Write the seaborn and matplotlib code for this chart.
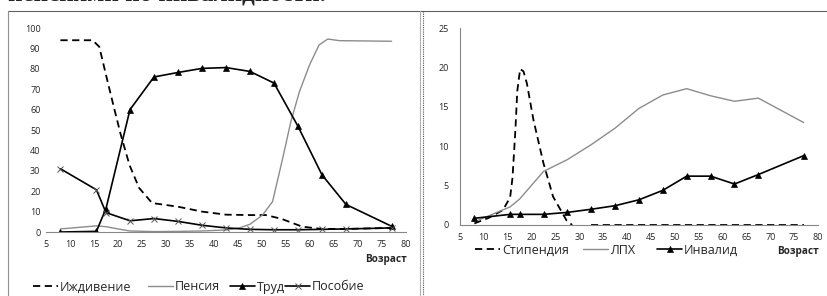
import matplotlib
matplotlib.use("Agg")
import matplotlib.pyplot as plt
from matplotlib.lines import Line2D
from matplotlib.legend import Legend
import seaborn as sns

sns.set_style("white")
plt.rcParams["font.family"] = ["Open Sans", "DejaVu Sans"]

# возрастные группы (точки с маркерами)
age = [8, 15.5, 17.5, 22.5, 27.5, 32.5, 37.5, 42.5, 47.5, 52.5, 57.5, 62.5, 67.5, 77]

# левый график, %
trud = [0, 0.3, 11.5, 60, 76, 78.2, 80.2, 80.6, 78.7, 73, 51.8, 28, 13.5, 2.8]
posobie = [31, 20.7, 9.5, 5.5, 6.6, 5.2, 3.3, 2, 1.3, 1.1, 1.1, 1.3, 1.5, 2]
# кривые без маркеров, считаны по линии
age_izh = [8, 14.7, 16.1, 17.5, 19.2, 20.6, 22.4, 24.4, 27.1, 32.5, 37.5, 42.5, 47.5, 50.8, 54, 58.4, 62.5, 67.5, 77]
izhdiv = [94, 94, 90.8, 77, 60.6, 47.5, 32.8, 21.6, 14.2, 12.4, 10, 8.5, 8.3, 8.3, 6.5, 2.6, 1.5, 1.5, 2]
age_pens = [8, 15.5, 17.5, 20, 22.5, 27.5, 32.5, 37.5, 42.5, 45.3, 47.5, 50.1, 52.2, 54.3, 56, 57.8, 59.9, 61.9, 63.7, 66.1, 77]
pensia = [1.5, 3, 2.6, 1.5, 0.5, 0.2, 0.3, 0.5, 1, 2, 3.8, 8.3, 14.9, 36, 54, 68.8, 81.9, 91.7, 94.6, 93.8, 93.5]

# правый график, %
invalid = [0.85, 1.35, 1.35, 1.35, 1.6, 2.0, 2.45, 3.2, 4.4, 6.2, 6.2, 5.2, 6.4, 8.8]
lph = [0.4, 2.3, 3.3, 6.8, 8.3, 10.2, 12.3, 14.8, 16.5, 17.3, 16.4, 15.7, 16.1, 13.0]
age_stip = [8, 11, 14, 15.5, 16, 16.6, 17.0, 17.6, 18.3, 19, 20.4, 22.5, 24.5, 27.3, 28.5]
stip = [0.2, 0.9, 1.9, 3.5, 6, 12, 17, 19.8, 19.5, 18, 13.3, 7.8, 3.6, 0.6, 0]
age_stip2 = [32.5, 77]
stip2 = [0, 0]

GREY = "#8c8c8c"
AXC = "#868686"
DASH = (0, (4, 2.5))
W, H = 827, 296

fig = plt.figure(figsize=(8.27, 2.96), dpi=100)
axL = fig.add_axes([46 / W, 1 - 232 / H, 360 / W, 204 / H])
axR = fig.add_axes([460 / W, 1 - 225 / H, 358 / W, 197 / H])

kw = dict(estimator=None, errorbar=None, sort=False)

# левый
sns.lineplot(x=age_izh, y=izhdiv, ax=axL, color="black", lw=1.3, linestyle=DASH, label="Иждивение", **kw)
sns.lineplot(x=age_pens, y=pensia, ax=axL, color=GREY, lw=1.0, label="Пенсия", **kw)
sns.lineplot(x=age, y=trud, ax=axL, color="black", lw=1.2, marker="^", markersize=4.5,
             markeredgecolor="black", markeredgewidth=0.5, label="Труд", **kw)
sns.lineplot(x=age, y=posobie, ax=axL, color="black", lw=1.2, marker="x", markersize=4.5,
             markeredgecolor="#555555", markeredgewidth=0.7, label="Пособие", **kw)

# правый
sns.lineplot(x=age_stip, y=stip, ax=axR, color="black", lw=1.3, linestyle=DASH, label="Стипендия", **kw)
sns.lineplot(x=age_stip2, y=stip2, ax=axR, color="black", lw=1.3, linestyle=DASH, **kw)
sns.lineplot(x=age, y=lph, ax=axR, color=GREY, lw=1.0, label="ЛПХ", **kw)
sns.lineplot(x=age, y=invalid, ax=axR, color="black", lw=1.2, marker="^", markersize=4.5,
             markeredgecolor="black", markeredgewidth=0.5, label="Инвалид", **kw)

for ax, ymax, ystep in [(axL, 100, 10), (axR, 25, 5)]:
    ax.set_xlim(5, 80)
    ax.set_ylim(0, ymax)
    ax.set_xticks(range(5, 81, 5))
    ax.set_yticks(range(0, ymax + 1, ystep))
    ax.set_xlabel("")
    ax.set_ylabel("")
    for s in ["top", "right"]:
        ax.spines[s].set_visible(False)
    for s in ["left", "bottom"]:
        ax.spines[s].set_color(AXC)
        ax.spines[s].set_linewidth(0.8)
    ax.tick_params(axis="x", length=3, width=0.7, color=AXC, labelsize=6.5, pad=3, direction="out")
    ax.tick_params(axis="y", length=3, width=0.7, color=AXC, labelsize=6.5, pad=5, direction="out")
    ax.text(1.003, -0.135, "Возраст", transform=ax.transAxes, ha="right", va="center",
            fontsize=7.2, fontweight="bold")

axL.spines["left"].set_visible(False)
axL.tick_params(axis="y", length=0, pad=4)


# легенда: каждый элемент на своём месте, как в Excel
def place_legend(ax, xs, y):
    handles, labels = ax.get_legend_handles_labels()
    if ax.get_legend() is not None:
        ax.get_legend().remove()
    for h, lab, x in zip(handles, labels, xs):
        leg = Legend(ax, [h], [lab], loc="center left", bbox_to_anchor=(x / W, 1 - y / H),
                     bbox_transform=fig.transFigure, frameon=False, fontsize=9,
                     handlelength=2.0, handletextpad=0.15, borderaxespad=0, borderpad=0)
        ax.add_artist(leg)


place_legend(axL, [33, 148, 230, 285], 287)
place_legend(axR, [475, 583, 657], 250)

# рамки панелей
def fline(x0, y0, x1, y1, **k):
    fig.add_artist(Line2D([x0 / W, x1 / W], [1 - y0 / H, 1 - y1 / H], transform=fig.transFigure, **k))


fline(8, 10.5, 827, 10.5, color="#606060", lw=0.8)
fline(8, 10.5, 8, 296, color="#909090", lw=0.8)
fline(420, 10.5, 420, 296, color="#b0b0b0", lw=0.8)
fline(423, 10.5, 423, 296, color="#505050", lw=0.8, linestyle=(0, (1, 1)))

# обрезанная строка текста сверху (в оригинале видна только нижняя кромка)
fig.text(8 / W, 1 - 0.5 / H, "пенсиями по инвалидности.", family=["Liberation Serif", "DejaVu Serif"],
         fontweight="bold", fontsize=18, va="baseline", ha="left")

fig.savefig("out.png", dpi=100)
